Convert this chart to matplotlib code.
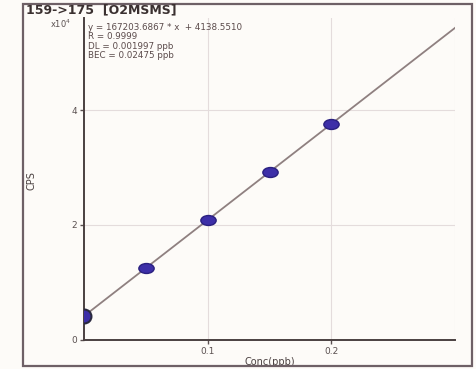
import numpy as np
import matplotlib.pyplot as plt
from matplotlib.patches import Rectangle
from matplotlib.path import Path
from matplotlib.transforms import Affine2D

# calibration data
conc = [0.0, 0.05, 0.1, 0.15, 0.2]
cps = [4100, 12500, 20900, 29250, 37600]
slope = 167203.6867
intercept = 4138.5510
fit_x = [0.0, 0.3]

header = "159->175  [O2MSMS]"
stats = ["y = 167203.6867 * x  + 4138.5510",
         "R = 0.9999",
         "DL = 0.001997 ppb",
         "BEC = 0.02475 ppb"]

# flattened ellipse marker
ell = Path.unit_circle().transformed(Affine2D().scale(1.0, 0.65))

fig = plt.figure(figsize=(4.77, 3.69), dpi=100)
fig.patch.set_facecolor("#fdfbf8")
ax = fig.add_axes([0.176, 0.079, 0.778, 0.872])
ax.set_facecolor("#fdfbf8")

# outer frame
fig.patches.append(Rectangle((0.048, 0.008), 0.942, 0.98, transform=fig.transFigure,
                             fill=False, edgecolor="#6e6066", lw=1.6))
fig.text(0.055, 0.972, header, fontsize=9, fontweight="bold", color="#3a3030", va="center")
fig.text(0.105, 0.936, r"x10$^{4}$", fontsize=6, color="#5a5050", va="center")

fx = np.array(fit_x)
ax.plot(fx, slope * fx + intercept, color="#8f8080", lw=1.3, zorder=2)
ax.plot(conc[1:], cps[1:], marker=ell, ls="none", ms=11, color="#3d2fa8",
        mec="#2a2080", zorder=3)
ax.plot(conc[:1], cps[:1], "o", ms=10, color="#3d2fa8", mec="#2a2a40", mew=1.5,
        zorder=3)

ax.set_xlim(0, 0.3)
ax.set_ylim(0, 56000)
ax.set_xticks([0.1, 0.2])
ax.set_xticklabels(["0.1", "0.2"])
ax.set_yticks([0, 20000, 40000])
ax.set_yticklabels(["0", "2", "4"])
ax.tick_params(labelsize=6.5, colors="#5a5050", length=3, width=1, pad=2)
for v in [0.1, 0.2, 0.3]:
    ax.axvline(v, color="#e4dcdc", lw=0.8, zorder=0)
for v in [20000, 40000]:
    ax.axhline(v, color="#e4dcdc", lw=0.8, zorder=0)
ax.spines["top"].set_visible(False)
ax.spines["right"].set_visible(False)
ax.spines["left"].set_color("#4a4040")
ax.spines["bottom"].set_color("#4a4040")
ax.spines["left"].set_linewidth(1.4)
ax.spines["bottom"].set_linewidth(1.4)

ax.set_xlabel("Conc(ppb)", fontsize=7, color="#4a4040", labelpad=1)
fig.text(0.065, 0.51, "CPS", fontsize=7, color="#4a4040", rotation=90, va="center", ha="center")

ax.text(0.01, 0.985, "\n".join(stats), transform=ax.transAxes, fontsize=6.3,
        color="#5a4a4a", va="top", ha="left", linespacing=1.05)

fig.savefig("out.png", dpi=100, facecolor=fig.get_facecolor())
